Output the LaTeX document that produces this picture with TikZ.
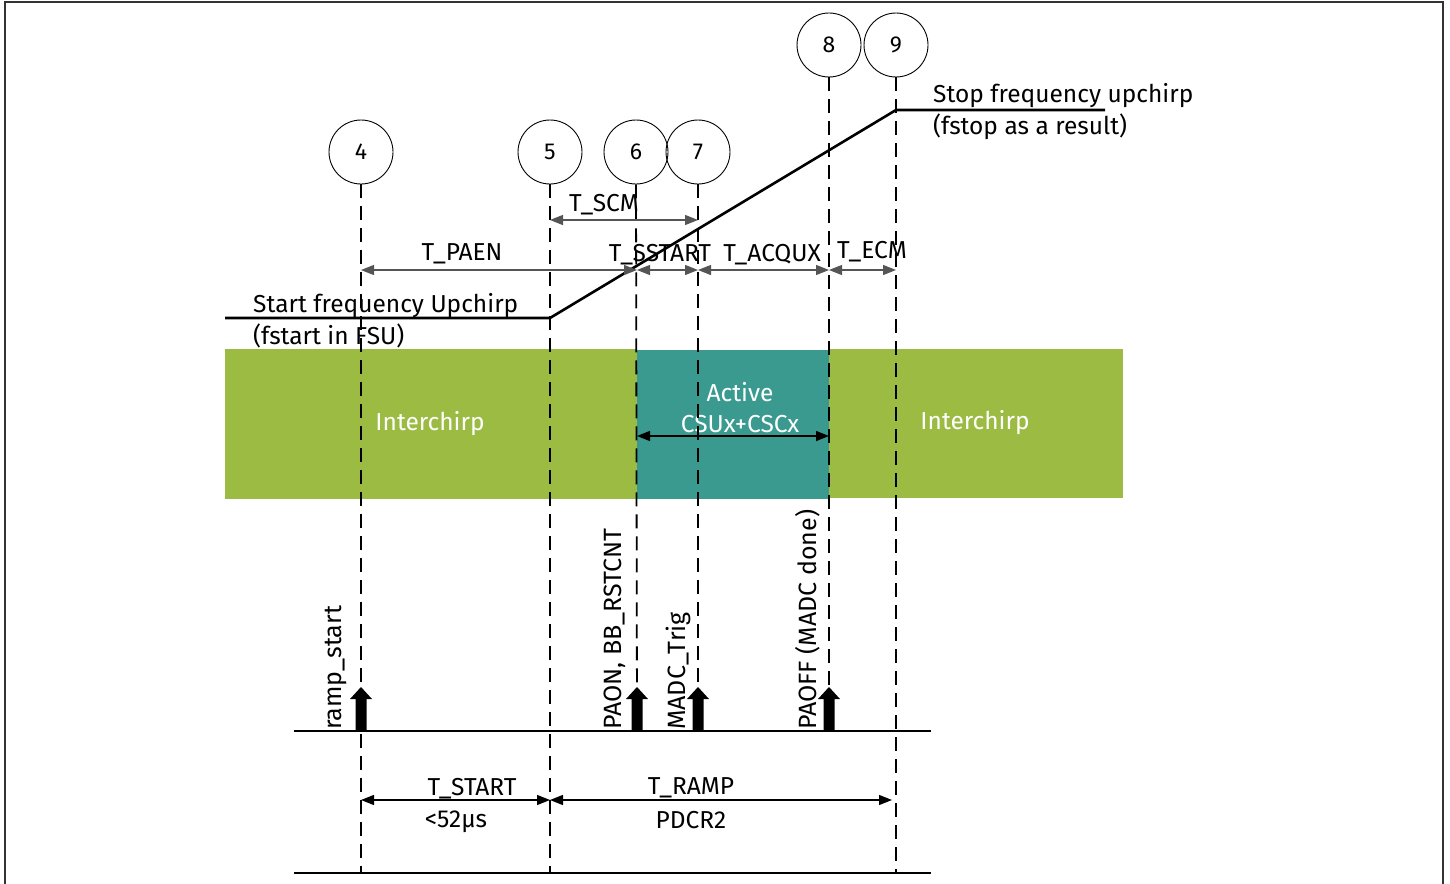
\documentclass[tikz,border=0pt]{standalone}
\usepackage{fontspec}
\setmainfont{Fira Sans}
\usetikzlibrary{arrows.meta}
\definecolor{icgreen}{HTML}{9BBB43}
\definecolor{icteal}{HTML}{3B9A8F}
\definecolor{dimgray}{HTML}{555555}
\tikzset{
  num/.style={circle,draw,line width=0.9pt,minimum size=64pt,inner sep=0pt,font=\fontsize{23}{25}\selectfont},
  vdash/.style={line width=1.8pt,dash pattern=on 14pt off 8pt},
  dim/.style={dimgray,line width=1.1pt,{Triangle[length=13pt,width=10pt]}-{Triangle[length=13pt,width=10pt]}},
  actarrow/.style={black,line width=1.4pt,{Triangle[length=13pt,width=10pt]}-{Triangle[length=13pt,width=10pt]}},
  lbl/.style={inner sep=0pt,font=\fontsize{24.5}{28}\selectfont},
  wlbl/.style={lbl,text=white},
  rlbl/.style={inner sep=0pt,rotate=90,anchor=base west,font=\fontsize{25}{28}\selectfont},
  freq/.style={line width=2.6pt,line join=miter},
  axis/.style={line width=2.4pt},
}
\begin{document}
\begin{tikzpicture}[x=1pt,y=-1pt]
\useasboundingbox (0,0) rectangle (1450,883);
% frame
\draw[line width=1.6pt,black!80] (5,900) -- (5,2) -- (1443,2) -- (1443,900);
% bands
\fill[icgreen] (225,349) rectangle (637,499);
\fill[icteal] (637,350) rectangle (829,499);
\fill[icgreen] (829,349) rectangle (1123,498);
\node[wlbl] (ic1) at (430,424) {Interchirp};
\node[wlbl] (ic2) at (975,423) {Interchirp};
\node[wlbl] (act1) at (740,392) {Active};
\node[wlbl] (act2) at (740,424) {CSUx+CSCx};
% circles
\node[num] (c4) at (361,152) {4};
\node[num] (c5) at (550,152) {5};
\node[num] (c6) at (636,152) {6};
\node[num] (c7) at (698,152) {7};
\node[num] (c8) at (829,45) {8};
\node[num] (c9) at (896,45) {9};
% bottom coordinates
\coordinate (b4) at (361,873);
\coordinate (b5) at (550,873);
\coordinate (b6) at (637,730);
\coordinate (b7) at (698,730);
\coordinate (b8) at (829,730);
\coordinate (b9) at (896,873);
\draw[vdash] (c4.south) -- (b4);
\draw[vdash] (c5.south) -- (b5);
\draw[vdash] (c6.south) -- (b6);
\draw[vdash] (c7.south) -- (b7);
\draw[vdash] (c8.south) -- (b8);
\draw[vdash] (c9.south) -- (b9);
% frequency line
\coordinate (f0) at (225,318);
\coordinate (f1) at (550,318);
\coordinate (f2) at (896,110);
\coordinate (f3) at (1105,110);
\draw[freq] (f0) -- (f1) -- (f2) -- (f3);
\node[lbl,anchor=base west] (startf) at (253,312) {Start frequency Upchirp};
\node[lbl,anchor=base west] (startf2) at (253,344) {(fstart in FSU)};
\node[lbl,anchor=base west] (stopf) at (933,102) {Stop frequency upchirp};
\node[lbl,anchor=base west] (stopf2) at (933,134) {(fstop as a result)};
% dimension arrows
\coordinate (scmA) at (550,220); \coordinate (scmB) at (698,220);
\draw[dim] (scmA) -- (scmB);
\node[lbl] (tscm) at (604,205) {T\_SCM};
\coordinate (d4) at (361,270); \coordinate (d6) at (637,270);
\coordinate (d7) at (698,270); \coordinate (d8) at (829,270); \coordinate (d9) at (896,270);
\draw[dim] (d4) -- (d6);
\draw[dim] (d6) -- (d7);
\draw[dim] (d7) -- (d8);
\draw[dim] (d8) -- (d9);
\node[lbl] (tpaen) at (462,254) {T\_PAEN};
\node[lbl] (tsstart) at (660,255) {T\_SSTART};
\node[lbl] (tacq) at (772,255) {T\_ACQUX};
\node[lbl] (tecm) at (872,252) {T\_ECM};
% active arrow
\coordinate (a6) at (637,436); \coordinate (a8) at (829,436);
\draw[actarrow] (a6) -- (a8);
% axes
\coordinate (ax0) at (294,731); \coordinate (ax1) at (931,731);
\draw[axis] (ax0) -- (ax1);
\coordinate (bx0) at (294,873); \coordinate (bx1) at (931,873);
\draw[axis] (bx0) -- (bx1);
% block arrows
\foreach \xx in {361,637,698,829}{
  \fill (\xx-5.5,731) -- (\xx-5.5,699) -- (\xx-11,699) -- (\xx,687) -- (\xx+11,699) -- (\xx+5.5,699) -- (\xx+5.5,731) -- cycle;
}
% rotated labels
\node[rlbl] (rs) at (341,730) {ramp\_start};
\node[rlbl] (paon) at (621,730) {PAON, BB\_RSTCNT};
\node[rlbl] (madc) at (685,730) {MADC\_Trig};
\node[rlbl] (paoff) at (816,730) {PAOFF (MADC done)};
% bottom dims
\coordinate (s4) at (361,800); \coordinate (s5) at (550,800); \coordinate (s9) at (892,800);
\draw[actarrow,line width=1.2pt] (s4) -- (s5);
\draw[actarrow,line width=1.2pt] (s5) -- (s9);
\node[lbl] (tstart) at (472,789) {T\_START};
\node[lbl] (t52) at (456,822) {<52µs};
\node[lbl] (tramp) at (691,788) {T\_RAMP};
\node[lbl] (pdcr) at (691,820) {PDCR2};
\end{tikzpicture}
\end{document}
